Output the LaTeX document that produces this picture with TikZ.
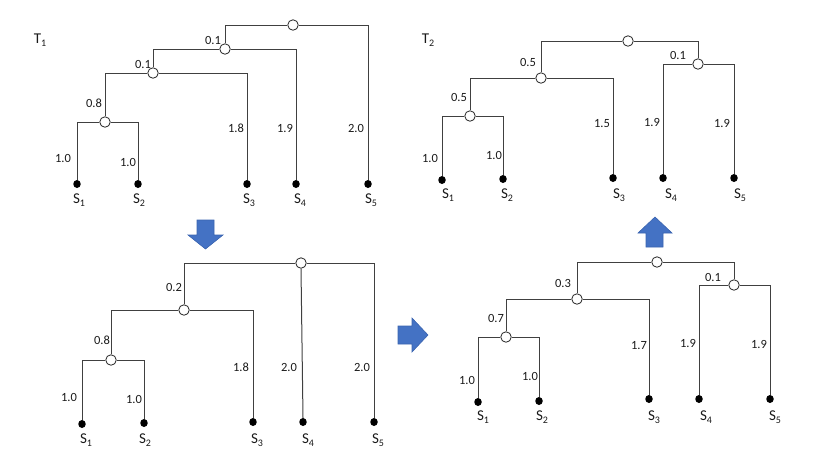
\documentclass[tikz,border=0pt]{standalone}
\usepackage{fontspec}
\usetikzlibrary{shapes.geometric}
\setmainfont{Carlito}
\newcommand{\sname}[2]{{\fontsize{15}{17}\selectfont #1\raisebox{-2.5pt}{\fontsize{10}{11}\selectfont #2}}}
\definecolor{arrowblue}{HTML}{4472C4}
\definecolor{arrowedge}{HTML}{3A64B0}
\begin{document}
\begin{tikzpicture}[x=1pt,y=-1pt,
  inner/.style={circle, draw=black!85, fill=white, minimum size=10.5pt, inner sep=0pt, line width=0.8pt},
  leaf/.style={ellipse, fill=black, minimum width=7.5pt, minimum height=8pt, inner sep=0pt},
  lab/.style={font=\fontsize{12.5}{14}\selectfont, inner sep=0pt, text=black!90},
  sl/.style={inner sep=0pt, text=black!90},
  edge/.style={draw=black!75, line width=1pt},
  bigarrow/.style={fill=arrowblue, draw=arrowedge, line width=0.6pt},
]
\useasboundingbox (0,0) rectangle (830,467);

% ---------- T1 (top-left) ----------
\node[sl] (t1) at (40,40) {\sname{T}{1}};
\node[leaf] (a1) at (77,184) {};
\node[leaf] (a2) at (138,184) {};
\node[leaf] (a3) at (247,184) {};
\node[leaf] (a4) at (296,184) {};
\node[leaf] (a5) at (368,184) {};
\node[inner] (an1) at (105,122) {};
\node[inner] (an2) at (153,73) {};
\node[inner] (an3) at (225,49) {};
\node[inner] (ar) at (293,25) {};
\draw[edge] (ar.west) -| (an3.north);
\draw[edge] (ar.east) -| (a5.north);
\draw[edge] (an3.west) -| (an2.north);
\draw[edge] (an3.east) -| (a4.north);
\draw[edge] (an2.west) -| (an1.north);
\draw[edge] (an2.east) -| (a3.north);
\draw[edge] (an1.west) -| (a1.north);
\draw[edge] (an1.east) -| (a2.north);
\node[lab] (al1) at (213,40) {0.1};
\node[lab] (al2) at (143,64) {0.1};
\node[lab] (al3) at (94,103) {0.8};
\node[lab] (al4) at (63,158) {1.0};
\node[lab] (al5) at (128,162) {1.0};
\node[lab] (al6) at (236,128) {1.8};
\node[lab] (al7) at (285,128) {1.9};
\node[lab] (al8) at (356,128) {2.0};
\node[sl] (as1) at (79,200) {\sname{S}{1}};
\node[sl] (as2) at (139,200) {\sname{S}{2}};
\node[sl] (as3) at (249,200) {\sname{S}{3}};
\node[sl] (as4) at (300,200) {\sname{S}{4}};
\node[sl] (as5) at (371,200) {\sname{S}{5}};

% ---------- T2 (top-right) ----------
\node[sl] (t2) at (428,40) {\sname{T}{2}};
\node[leaf] (b1) at (442,180) {};
\node[leaf] (b2) at (503,179) {};
\node[leaf] (b3) at (613,178) {};
\node[leaf] (b4) at (663,178) {};
\node[leaf] (b5) at (734,178) {};
\node[inner] (bB) at (470,116) {};
\node[inner] (bA) at (541,78) {};
\node[inner] (bC) at (698,64) {};
\node[inner] (br) at (628,41) {};
\draw[edge] (br.west) -| (bA.north);
\draw[edge] (br.east) -| (bC.north);
\draw[edge] (bA.west) -| (bB.north);
\draw[edge] (bA.east) -| (b3.north);
\draw[edge] (bB.west) -| (b1.north);
\draw[edge] (bB.east) -| (b2.north);
\draw[edge] (bC.west) -| (b4.north);
\draw[edge] (bC.east) -| (b5.north);
\node[lab] (bl1) at (528,62) {0.5};
\node[lab] (bl2) at (459,97) {0.5};
\node[lab] (bl3) at (678,55) {0.1};
\node[lab] (bl4) at (430,158) {1.0};
\node[lab] (bl5) at (494,155) {1.0};
\node[lab] (bl6) at (602,124) {1.5};
\node[lab] (bl7) at (652,122) {1.9};
\node[lab] (bl8) at (722,123) {1.9};
\node[sl] (bs1) at (448,195) {\sname{S}{1}};
\node[sl] (bs2) at (507,195) {\sname{S}{2}};
\node[sl] (bs3) at (619,195) {\sname{S}{3}};
\node[sl] (bs4) at (671,195) {\sname{S}{4}};
\node[sl] (bs5) at (740,195) {\sname{S}{5}};

% ---------- bottom-left ----------
\node[leaf] (c1) at (82,424) {};
\node[leaf] (c2) at (144,423) {};
\node[leaf] (c3) at (253,422) {};
\node[leaf] (c4) at (303,422) {};
\node[leaf] (c5) at (374,422) {};
\node[inner] (cB) at (111,360) {};
\node[inner] (cA) at (184,310) {};
\node[inner] (cr) at (301,263) {};
\draw[edge] (cr.west) -| (cA.north);
\draw[edge] (cr.east) -| (c5.north);
\draw[edge] (cr.south) -- (c4.north);
\draw[edge] (cA.west) -| (cB.north);
\draw[edge] (cA.east) -| (c3.north);
\draw[edge] (cB.west) -| (c1.north);
\draw[edge] (cB.east) -| (c2.north);
\node[lab] (cl1) at (174,287) {0.2};
\node[lab] (cl2) at (102,340) {0.8};
\node[lab] (cl3) at (69,397) {1.0};
\node[lab] (cl4) at (134,399) {1.0};
\node[lab] (cl5) at (241,367) {1.8};
\node[lab] (cl6) at (289,367) {2.0};
\node[lab] (cl7) at (362,367) {2.0};
\node[sl] (cs1) at (86,440) {\sname{S}{1}};
\node[sl] (cs2) at (145,440) {\sname{S}{2}};
\node[sl] (cs3) at (257,440) {\sname{S}{3}};
\node[sl] (cs4) at (308,440) {\sname{S}{4}};
\node[sl] (cs5) at (378,440) {\sname{S}{5}};

% ---------- bottom-right ----------
\node[leaf] (d1) at (478,402) {};
\node[leaf] (d2) at (539,401) {};
\node[leaf] (d3) at (649,399) {};
\node[leaf] (d4) at (699,399) {};
\node[leaf] (d5) at (770,399) {};
\node[inner] (dB) at (506,337) {};
\node[inner] (dA) at (577,299) {};
\node[inner] (dC) at (734,285) {};
\node[inner] (dr) at (657,262) {};
\draw[edge] (dr.west) -| (dA.north);
\draw[edge] (dr.east) -| (dC.north);
\draw[edge] (dA.west) -| (dB.north);
\draw[edge] (dA.east) -| (d3.north);
\draw[edge] (dB.west) -| (d1.north);
\draw[edge] (dB.east) -| (d2.north);
\draw[edge] (dC.west) -| (d4.north);
\draw[edge] (dC.east) -| (d5.north);
\node[lab] (dl1) at (563,283) {0.3};
\node[lab] (dl2) at (496,318) {0.7};
\node[lab] (dl3) at (713,277) {0.1};
\node[lab] (dl4) at (467,380) {1.0};
\node[lab] (dl5) at (530,376) {1.0};
\node[lab] (dl6) at (639,346) {1.7};
\node[lab] (dl7) at (688,343) {1.9};
\node[lab] (dl8) at (759,344) {1.9};
\node[sl] (ds1) at (483,417) {\sname{S}{1}};
\node[sl] (ds2) at (542,417) {\sname{S}{2}};
\node[sl] (ds3) at (654,417) {\sname{S}{3}};
\node[sl] (ds4) at (706,417) {\sname{S}{4}};
\node[sl] (ds5) at (775,417) {\sname{S}{5}};

% ---------- block arrows ----------
\draw[bigarrow] (197,220) -- (214,220) -- (214,235) -- (223,235) -- (205.5,249) -- (188,235) -- (197,235) -- cycle;
\draw[bigarrow] (398,326) -- (412,326) -- (412,318) -- (428,335) -- (412,352) -- (412,344) -- (398,344) -- cycle;
\draw[bigarrow] (646,247) -- (663,247) -- (663,233) -- (672,233) -- (655,217) -- (638,233) -- (646,233) -- cycle;
\end{tikzpicture}
\end{document}
